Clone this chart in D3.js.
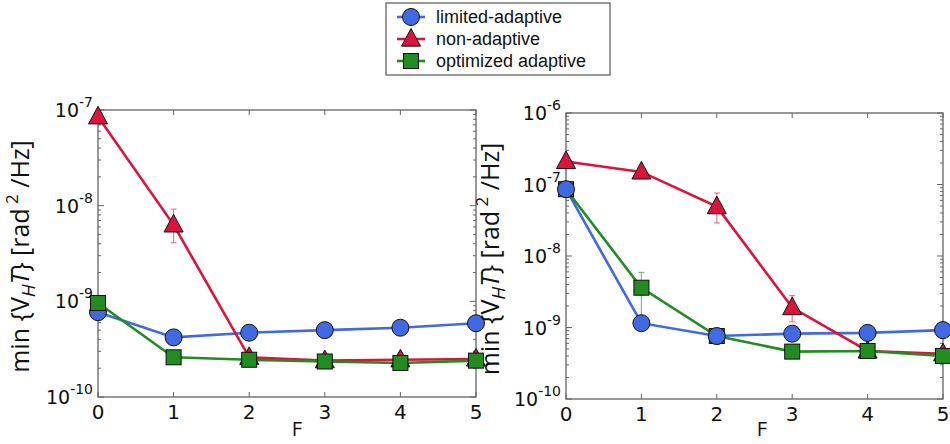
<!DOCTYPE html>
<html><head><meta charset="utf-8">
<script src="https://cdn.jsdelivr.net/npm/d3@7"></script>
<style>body{margin:0;background:#fff}</style>
</head><body>
<svg id="c" width="950" height="444"></svg>
<script>
const F = [0,1,2,3,4,5];
const seriesNames = ["limited-adaptive","non-adaptive","optimized adaptive"];
// Left panel values
const leftLimited   = [7.7e-10, 4.2e-10, 4.7e-10, 5.0e-10, 5.3e-10, 5.9e-10];
const leftNon       = [8.5e-8, 6.3e-9, 2.6e-10, 2.4e-10, 2.45e-10, 2.5e-10];
const leftOpt       = [9.6e-10, 2.6e-10, 2.45e-10, 2.35e-10, 2.27e-10, 2.4e-10];
const leftNonErrLo  = [null, 4.1e-9, null, null, null, null];
const leftNonErrHi  = [null, 9.2e-9, null, null, null, null];
const leftOptErrLo  = [8.0e-10, null, null, null, null, null];
const leftOptErrHi  = [1.15e-9, null, null, null, null, null];
// Right panel values
const rightLimited  = [8.6e-8, 1.15e-9, 7.6e-10, 8.2e-10, 8.4e-10, 9.2e-10];
const rightNon      = [2.1e-7, 1.5e-7, 4.9e-8, 1.9e-9, 4.7e-10, 4.3e-10];
const rightOpt      = [8.6e-8, 3.6e-9, 7.6e-10, 4.6e-10, 4.7e-10, 4.0e-10];
const rightNonErrLo = [null, null, 2.9e-8, 1.2e-9, null, null];
const rightNonErrHi = [null, null, 7.6e-8, 2.8e-9, null, null];
const rightOptErrLo = [null, 1.25e-9, 5.8e-10, null, null, null];
const rightOptErrHi = [null, 5.9e-9, 8.6e-10, null, null, null];
const leftYDomain = [1e-10, 1e-7];
const rightYDomain = [1e-10, 1e-6];

const colors = {lim:"#4169E1", non:"#DC143C", opt:"#228B22"};
const svg = d3.select("#c");
const tickFont = "DejaVu Sans, sans-serif";
const labFont = "Open Sans, sans-serif";

function panel(x0, x1, y0, y1, ydom, data, order, labelX, fLabelX){
  const x = d3.scaleLinear().domain([0,5]).range([x0,x1]);
  const y = d3.scaleLog().domain(ydom).range([y1,y0]);
  const g = svg.append("g");
  g.append("rect").attr("x",x0).attr("y",y0).attr("width",x1-x0).attr("height",y1-y0)
    .attr("fill","none").attr("stroke","#555").attr("stroke-width",1.2);
  const yt = y.ticks();
  const axCol = "#666";
  yt.forEach(v=>{
    const lg = Math.log10(v);
    const major = Math.abs(lg-Math.round(lg))<1e-9;
    const len = major?6:3;
    const yy = y(v);
    g.append("line").attr("x1",x0).attr("x2",x0+len).attr("y1",yy).attr("y2",yy).attr("stroke",axCol).attr("stroke-width",1);
    g.append("line").attr("x1",x1).attr("x2",x1-len).attr("y1",yy).attr("y2",yy).attr("stroke",axCol).attr("stroke-width",1);
    if(major){
      const t = g.append("text").attr("x",x0-5).attr("y",yy+7).attr("text-anchor","end")
        .attr("font-family",tickFont).attr("font-size",19).attr("fill","#111");
      t.append("tspan").text("10");
      t.append("tspan").attr("dy",-10).attr("font-size",14).text(String(Math.round(lg)));
    }
  });
  F.forEach(f=>{
    const xx = x(f);
    g.append("line").attr("x1",xx).attr("x2",xx).attr("y1",y1).attr("y2",y1-5).attr("stroke",axCol);
    g.append("line").attr("x1",xx).attr("x2",xx).attr("y1",y0).attr("y2",y0+5).attr("stroke",axCol);
    g.append("text").attr("x",xx).attr("y",y1+22).attr("text-anchor","middle")
      .attr("font-family",tickFont).attr("font-size",20).attr("fill","#111").text(f);
  });
  g.append("text").attr("x",fLabelX).attr("y",436).attr("text-anchor","middle")
    .attr("font-family",labFont).attr("font-size",20).attr("fill","#111").text("F");
  const yl = g.append("text").attr("transform",`translate(${labelX},${(y0+y1)/2+3}) rotate(-90)`)
    .attr("text-anchor","middle").attr("font-family",labFont).attr("font-size",25).attr("fill","#111");
  yl.append("tspan").text("min {V");
  yl.append("tspan").attr("font-style","italic").attr("font-size",19).attr("dy",6).text("H");
  yl.append("tspan").attr("font-style","italic").attr("dy",-6).text("T");
  yl.append("tspan").text("} [rad");
  yl.append("tspan").attr("font-size",17).attr("dy",-11).text(" 2");
  yl.append("tspan").attr("dy",11).text(" /Hz]");

  const line = d3.line().x((d,i)=>x(F[i])).y(d=>y(d));
  data.forEach(s=>{
    if(!s.lo) return;
    s.lo.forEach((lo,i)=>{
      if(lo==null) return;
      const hi = s.hi[i], xx = x(F[i]);
      const eg = g.append("g").attr("stroke",s.color).attr("stroke-opacity",0.55).attr("stroke-width",1.2);
      eg.append("line").attr("x1",xx).attr("x2",xx).attr("y1",y(lo)).attr("y2",y(hi));
      eg.append("line").attr("x1",xx-3).attr("x2",xx+3).attr("y1",y(lo)).attr("y2",y(lo));
      eg.append("line").attr("x1",xx-3).attr("x2",xx+3).attr("y1",y(hi)).attr("y2",y(hi));
    });
  });
  data.forEach(s=>{
    g.append("path").attr("d",line(s.v)).attr("fill","none").attr("stroke",s.color).attr("stroke-width",2.6);
  });
  order.forEach(k=>{
    const s = data[k];
    s.v.forEach((v,i)=>drawMarker(g, s.marker, x(F[i]), y(v), s.color));
  });
}

function drawMarker(g, type, cx, cy, color){
  if(type==="circle"){
    g.append("circle").attr("cx",cx).attr("cy",cy).attr("r",8.5).attr("fill",color).attr("stroke","#111").attr("stroke-width",1);
  } else if(type==="triangle"){
    const s=9.5;
    g.append("path").attr("d",`M${cx},${cy-s*1.1}L${cx+s},${cy+s*0.75}L${cx-s},${cy+s*0.75}Z`)
      .attr("fill",color).attr("stroke","#111").attr("stroke-width",1);
  } else {
    const s=7.5;
    g.append("rect").attr("x",cx-s).attr("y",cy-s).attr("width",2*s).attr("height",2*s)
      .attr("fill",color).attr("stroke","#111").attr("stroke-width",1);
  }
}

panel(98, 476, 110, 397, leftYDomain, [
  {v:leftLimited, color:colors.lim, marker:"circle"},
  {v:leftNon, color:colors.non, marker:"triangle", lo:leftNonErrLo, hi:leftNonErrHi},
  {v:leftOpt, color:colors.opt, marker:"square", lo:leftOptErrLo, hi:leftOptErrHi}
], [0,1,2], 29, 297);

panel(566, 943, 113, 399, rightYDomain, [
  {v:rightLimited, color:colors.lim, marker:"circle"},
  {v:rightNon, color:colors.non, marker:"triangle", lo:rightNonErrLo, hi:rightNonErrHi},
  {v:rightOpt, color:colors.opt, marker:"square", lo:rightOptErrLo, hi:rightOptErrHi}
], [1,2,0], 499, 762);

const lg = svg.append("g");
lg.append("rect").attr("x",386).attr("y",3).attr("width",224).attr("height",72)
  .attr("fill","#fff").attr("stroke","#555").attr("stroke-width",1.2);
const lcol=[colors.lim,colors.non,colors.opt], lmk=["circle","triangle","square"];
seriesNames.forEach((n,i)=>{
  const yy = 17 + i*22;
  lg.append("line").attr("x1",397).attr("x2",425).attr("y1",yy).attr("y2",yy).attr("stroke",lcol[i]).attr("stroke-width",2.6);
  drawMarker(lg, lmk[i], 411, yy, lcol[i]);
  lg.append("text").attr("x",436).attr("y",yy+6).attr("font-family","Liberation Sans, Arial, sans-serif")
    .attr("font-size",18).attr("fill","#111").text(n);
});
</script>
</body></html>
